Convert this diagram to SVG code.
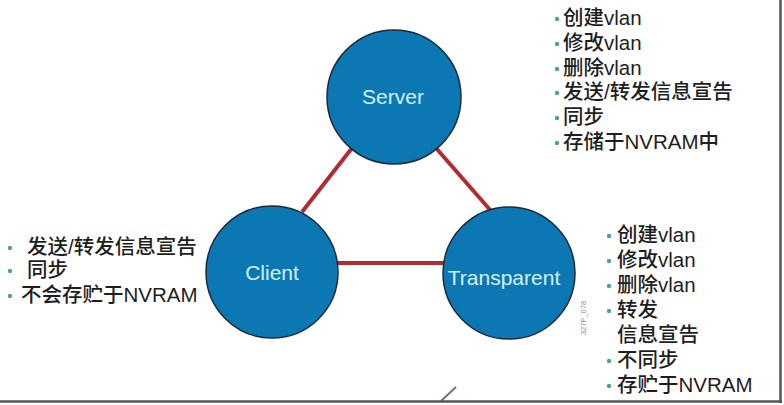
<svg xmlns="http://www.w3.org/2000/svg" width="784" height="405" viewBox="0 0 784 405">
<style>
.node{fill:#0b78b4;stroke:#1b2a38;stroke-width:1.5}
.nl{font-family:"Liberation Sans",Arial,sans-serif;font-size:21px;fill:#d6f1fb;text-anchor:middle}
.link{stroke:#b32b2e;stroke-width:4;fill:none}
.t{font-family:"Liberation Sans","Noto Sans CJK SC",sans-serif;font-size:20.5px;font-weight:500;fill:#1e1e1e}
.b{fill:#4f9ea6}
.cap{font-family:"Liberation Sans",Arial,sans-serif;font-size:7.5px;fill:#8a8a8a}
</style>
<rect width="784" height="405" fill="#ffffff"/>
<g id="connectors">
<line class="link" x1="352" y1="148" x2="302" y2="212"/>
<line class="link" x1="436" y1="148" x2="491" y2="211"/>
<line class="link" x1="336" y1="263" x2="446" y2="263"/>
</g>
<g id="server">
<circle class="node" cx="394" cy="97" r="67"/>
<text class="nl" x="393" y="104">Server</text>
</g>
<g id="client">
<circle class="node" cx="272" cy="272" r="66"/>
<text class="nl" x="272" y="280">Client</text>
</g>
<g id="transparent">
<circle class="node" cx="509" cy="273" r="66"/>
<text class="nl" x="504" y="285">Transparent</text>
</g>
<g id="server-notes">
<circle class="b" cx="557" cy="19" r="2.2"/><text class="t" x="563" y="25">创建vlan</text>
<circle class="b" cx="557" cy="44" r="2.2"/><text class="t" x="563" y="50">修改vlan</text>
<circle class="b" cx="557" cy="69" r="2.2"/><text class="t" x="563" y="75">删除vlan</text>
<circle class="b" cx="557" cy="93" r="2.2"/><text class="t" x="563" y="99">发送/转发信息宣告</text>
<circle class="b" cx="557" cy="118" r="2.2"/><text class="t" x="563" y="124">同步</text>
<circle class="b" cx="557" cy="143" r="2.2"/><text class="t" x="563" y="149">存储于NVRAM中</text>
</g>
<g id="client-notes">
<circle class="b" cx="10" cy="248" r="2.2"/><text class="t" x="27" y="254">发送/转发信息宣告</text>
<circle class="b" cx="10" cy="271" r="2.2"/><text class="t" x="27" y="277">同步</text>
<circle class="b" cx="10" cy="296" r="2.2"/><text class="t" x="21" y="302">不会存贮于NVRAM</text>
</g>
<g id="transparent-notes">
<circle class="b" cx="609" cy="236" r="2.2"/><text class="t" x="617" y="242">创建vlan</text>
<circle class="b" cx="609" cy="261" r="2.2"/><text class="t" x="617" y="267">修改vlan</text>
<circle class="b" cx="609" cy="286" r="2.2"/><text class="t" x="617" y="292">删除vlan</text>
<circle class="b" cx="609" cy="311" r="2.2"/><text class="t" x="617" y="317">转发</text>
<text class="t" x="617" y="342">信息宣告</text>
<circle class="b" cx="609" cy="361" r="2.2"/><text class="t" x="617" y="367">不同步</text>
<circle class="b" cx="609" cy="386" r="2.2"/><text class="t" x="617" y="392">存贮于NVRAM</text>
</g>
<text class="cap" transform="translate(586,318) rotate(-90)" text-anchor="middle">327P_078</text>
<line x1="441" y1="401" x2="456" y2="387" stroke="#7a6890" stroke-width="2"/>
<line x1="780.5" y1="0" x2="780.5" y2="403" stroke="#555" stroke-width="2.5"/>
<line x1="0" y1="401.5" x2="782" y2="401.5" stroke="#555" stroke-width="2.5"/>
</svg>
